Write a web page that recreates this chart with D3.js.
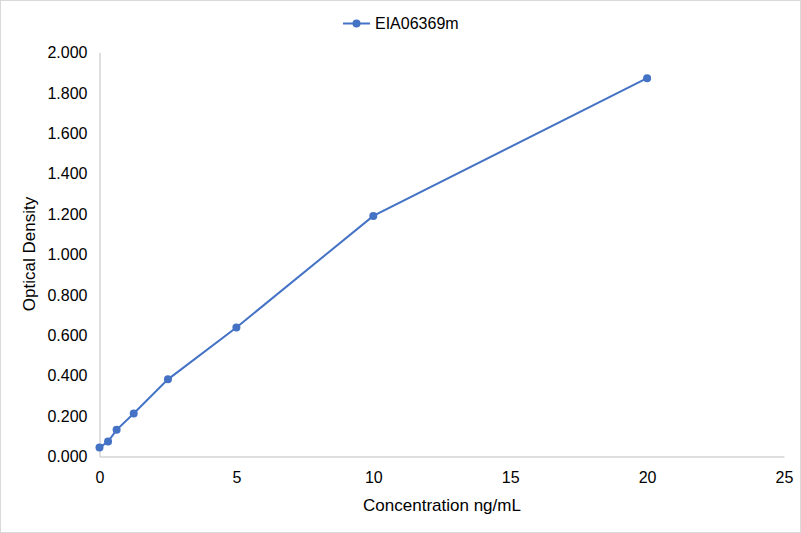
<!DOCTYPE html>
<html>
<head>
<meta charset="utf-8">
<script src="https://cdn.jsdelivr.net/npm/d3@7"></script>
<style>
  body { margin: 0; background: #fff; }
  text { font-family: "Liberation Sans", Arial, sans-serif; fill: #000; }
</style>
</head>
<body>
<div class="chart"></div>
<script>
var seriesName = "EIA06369m";
var concentration = [0, 0.3125, 0.625, 1.25, 2.5, 5, 10, 20];
var density = [0.044, 0.074, 0.132, 0.213, 0.382, 0.639, 1.191, 1.873];
var xTicks = [0, 5, 10, 15, 20, 25];
var yTicks = [0, 0.2, 0.4, 0.6, 0.8, 1.0, 1.2, 1.4, 1.6, 1.8, 2.0];

var width = 801,
  height = 533;

var svg = d3.select(".chart").append("svg")
  .attr("width", width)
  .attr("height", height)

svg.append("rect")
  .attr("x", 0.5).attr("y", 0.5)
  .attr("width", width - 1).attr("height", height - 1)
  .attr("fill", "#fff")
  .attr("stroke", "#d9d9d9")

var xScale = d3.scaleLinear().domain([0, 25]).range([99.5, 784]),
  yScale = d3.scaleLinear().domain([0, 2]).range([456.5, 52.5])

var color = "#4472C4"

// axes
var xAxis = svg.append("g")
  .attr("transform", "translate(0," + yScale(0) + ")")
  .call(d3.axisBottom(xScale).tickValues(xTicks).tickSize(0).tickPadding(15).tickFormat(d3.format("d")))
xAxis.select(".domain").attr("stroke", "#bfbfbf")
xAxis.selectAll("text").attr("font-size", "16px").attr("font-family", "Liberation Sans, Arial, sans-serif")

var yAxis = svg.append("g")
  .attr("transform", "translate(" + xScale(0) + ",0)")
  .call(d3.axisLeft(yScale).tickValues(yTicks).tickSize(0).tickPadding(12).tickFormat(d3.format(".3f")))
yAxis.select(".domain").attr("stroke", "#bfbfbf")
yAxis.selectAll("text").attr("font-size", "16px").attr("font-family", "Liberation Sans, Arial, sans-serif")

// series
var points = concentration.map(function (c, i) { return [c, density[i]] })

svg.append("path")
  .datum(points)
  .attr("fill", "none")
  .attr("stroke", color)
  .attr("stroke-width", 2)
  .attr("d", d3.line().x(function (d) { return xScale(d[0]) }).y(function (d) { return yScale(d[1]) }))

svg.selectAll(".dot")
  .data(points)
  .enter().append("circle")
  .attr("class", "dot")
  .attr("cx", function (d) { return xScale(d[0]) })
  .attr("cy", function (d) { return yScale(d[1]) })
  .attr("r", 4)
  .attr("fill", color)

// legend
var legend = svg.append("g").attr("transform", "translate(343,23.5)")
legend.append("line").attr("x1", 0).attr("x2", 27).attr("stroke", color).attr("stroke-width", 2)
legend.append("circle").attr("cx", 13.5).attr("r", 4).attr("fill", color)
legend.append("text").attr("x", 32).attr("dy", "0.35em").attr("font-size", "16px").text(seriesName)

// axis titles
svg.append("text")
  .attr("x", 442).attr("y", 511)
  .attr("text-anchor", "middle")
  .attr("font-size", "17px")
  .text("Concentration ng/mL")

svg.append("text")
  .attr("transform", "translate(35,254) rotate(-90)")
  .attr("text-anchor", "middle")
  .attr("font-size", "17px")
  .text("Optical Density")
</script>
</body>
</html>
